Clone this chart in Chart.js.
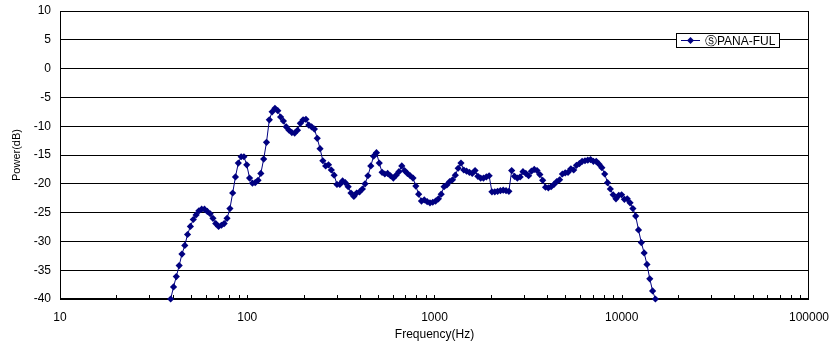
<!DOCTYPE html>
<html>
<head>
<meta charset="utf-8">
<script src="https://cdn.jsdelivr.net/npm/chart.js@4.4.0/dist/chart.umd.min.js"></script>
<style>
  html, body { margin: 0; padding: 0; background: #fff; }
</style>
</head>
<body>
<canvas id="responseChart" width="840" height="352"></canvas>
<script>
const seriesName = 'ⓈPANA-FUL';

// 1/20 octave frequencies (Hz)
const freqs = [
  39.0, 40.4, 41.8, 43.3, 44.8, 46.4, 48.0, 49.7, 51.5, 53.3, 55.2, 57.1, 59.1, 61.2, 63.4, 65.6, 67.9, 70.3, 72.8, 75.3,
  78.0, 80.8, 83.6, 86.5, 89.6, 92.8, 96.0, 99.4, 102.9, 106.6, 110.3, 114.2, 118.2, 122.4, 126.7, 131.2, 135.8, 140.6, 145.6, 150.7,
  156, 161.5, 167.2, 173.1, 179.2, 185.5, 192.1, 198.8, 205.8, 213.1, 220.6, 228.4, 236.5, 244.8, 253.4, 262.4, 271.6, 281.2, 291.1, 301.4,
  312, 323, 334, 346, 358, 371, 384, 398, 412, 426, 441, 457, 473, 490, 507, 525, 543, 562, 582, 603,
  624, 646, 669, 692, 717, 742, 768, 795, 823, 852, 882, 914, 946, 979, 1014, 1049, 1086, 1125, 1164, 1206,
  1248, 1292, 1338, 1385, 1434, 1484, 1536, 1591, 1647, 1705, 1765, 1827, 1892, 1958, 2027, 2099, 2173, 2250, 2329, 2411,
  2496, 2584, 2675, 2770, 2867, 2968, 3073, 3181, 3293, 3410, 3530, 3654, 3783, 3917, 4055, 4198, 4346, 4499, 4658, 4822,
  4992, 5168, 5350, 5539, 5734, 5937, 6146, 6363, 6587, 6819, 7060, 7309, 7567, 7833, 8110, 8396, 8692, 8998, 9315, 9644,
  9984, 10336, 10701, 11078, 11469, 11873, 12292, 12725, 13174, 13638, 14119, 14617, 15132
];

// level (dB)
const power = [
  -40.0, -37.9, -36.1, -34.2, -32.2, -30.7, -28.8, -27.4, -26.2, -25.4, -24.7, -24.4, -24.4, -24.8, -25.2, -26.0, -26.9, -27.4, -27.2, -26.9,
  -26.0, -24.3, -21.6, -18.8, -16.4, -15.3, -15.3, -16.7, -19.0, -19.9, -19.8, -19.4, -18.2, -15.7, -12.8, -8.9, -7.5, -6.9, -7.3, -8.4,
  -9.1, -10.1, -10.7, -11.1, -11.2, -10.7, -9.5, -8.9, -8.8, -9.8, -10.1, -10.5, -12.1, -13.9, -16.0, -16.9, -16.7, -17.6, -18.5, -20.1,
  -20.1, -19.5, -19.8, -20.5, -21.6, -22.2, -21.6, -21.4, -20.9, -20.0, -18.6, -16.9, -15.2, -14.6, -16.4, -18.0, -18.3, -18.2, -18.6, -19.0,
  -18.5, -17.9, -16.9, -17.7, -18.2, -18.6, -19.0, -20.4, -21.8, -23.0, -22.8, -23.1, -23.3, -23.2, -23.0, -22.6, -21.8, -20.5, -20.2, -19.6,
  -19.3, -18.5, -17.3, -16.4, -17.6, -17.8, -18.0, -18.2, -17.7, -18.7, -19.0, -19.0, -18.8, -18.6, -21.4, -21.4, -21.3, -21.2, -21.1, -21.2,
  -21.3, -17.7, -18.7, -19.0, -18.8, -17.9, -18.2, -18.6, -17.8, -17.5, -17.7, -18.4, -19.4, -20.6, -20.7, -20.5, -20.1, -19.6, -19.3, -18.3,
  -18.1, -18.0, -17.4, -17.6, -16.8, -16.5, -16.1, -16.0, -15.9, -15.8, -16.1, -16.1, -16.6, -17.2, -18.3, -19.8, -20.9, -21.9, -22.6, -22.0,
  -21.9, -22.7, -22.6, -23.3, -24.3, -25.6, -28.0, -30.2, -32.0, -34.0, -36.5, -38.6, -40.0
];

const xTicks = [10, 100, 1000, 10000, 100000];
const yMin = -40, yMax = 10, yStep = 5;

const navy = '#000080';
const font = { family: 'Liberation Sans, Arial, sans-serif', size: 12 };

// frame, inside minor ticks on the x axis, and boxed legend
const extras = {
  id: 'extras',
  beforeDatasetsDraw(chart) {
    const { ctx, chartArea: a, scales: { x } } = chart;
    ctx.save();
    ctx.strokeStyle = '#000';
    ctx.lineWidth = 1;
    ctx.strokeRect(Math.round(a.left) + 0.5, Math.round(a.top) + 0.5,
      Math.round(a.right - a.left) - 1, Math.round(a.bottom - a.top) - 1);
    ctx.beginPath();
    for (let d = xTicks[0]; d < xTicks[xTicks.length - 1]; d *= 10) {
      for (let m = 1; m < 10; m++) {
        const px = Math.round(x.getPixelForValue(d * m)) + 0.5;
        ctx.moveTo(px, a.bottom);
        ctx.lineTo(px, a.bottom - 4);
      }
    }
    ctx.stroke();
    ctx.restore();
  },
  afterDraw(chart) {
    const { ctx, chartArea: a } = chart;
    const bx = Math.round(a.right) - 133, by = Math.round(a.top) + 22;
    const bw = 103, bh = 14;
    ctx.save();
    ctx.fillStyle = '#fff';
    ctx.fillRect(bx, by, bw, bh);
    ctx.strokeStyle = '#000';
    ctx.lineWidth = 1;
    ctx.strokeRect(bx + 0.5, by + 0.5, bw, bh);
    const cy = by + 7.5;
    ctx.strokeStyle = navy;
    ctx.beginPath();
    ctx.moveTo(bx + 5, cy);
    ctx.lineTo(bx + 24, cy);
    ctx.stroke();
    ctx.fillStyle = navy;
    ctx.beginPath();
    ctx.moveTo(bx + 14.5, cy - 3.5);
    ctx.lineTo(bx + 18, cy);
    ctx.lineTo(bx + 14.5, cy + 3.5);
    ctx.lineTo(bx + 11, cy);
    ctx.closePath();
    ctx.fill();
    ctx.fillStyle = '#000';
    ctx.font = '12px ' + font.family;
    ctx.textBaseline = 'middle';
    ctx.fillText(seriesName, bx + 29, cy + 1);
    ctx.restore();
  }
};

const ctx = document.getElementById('responseChart').getContext('2d');
const responseChart = new Chart(ctx, {
  type: 'line',
  data: {
    datasets: [{
      label: seriesName,
      data: freqs.map((f, i) => ({ x: f, y: power[i] })),
      borderColor: navy,
      borderWidth: 1,
      backgroundColor: navy,
      pointStyle: 'rectRot',
      pointRadius: 3.6,
      pointBorderWidth: 0,
      pointBackgroundColor: navy,
      tension: 0,
      clip: false
    }]
  },
  options: {
    responsive: false,
    animation: false,
    devicePixelRatio: 1,
    layout: { padding: { left: 0, right: 30, top: 11, bottom: 0 } },
    plugins: {
      legend: { display: false },
      tooltip: { enabled: false }
    },
    scales: {
      x: {
        type: 'logarithmic',
        min: 10,
        max: 100000,
        afterFit: (s) => { s.height = 53; },
        afterBuildTicks: (s) => { s.ticks = xTicks.map(v => ({ value: v })); },
        grid: { drawOnChartArea: false, drawTicks: false },
        border: { display: true, color: '#000' },
        ticks: {
          color: '#000', font: font, padding: 11, autoSkip: false, maxRotation: 0,
          callback: (v) => String(v)
        },
        title: {
          display: true, text: 'Frequency(Hz)', color: '#000',
          font: { family: font.family, size: 12 }, padding: { bottom: 10 }
        }
      },
      y: {
        min: yMin,
        max: yMax,
        afterFit: (s) => { s.width = 60; s.paddingTop = 0; s.paddingBottom = 0; },
        grid: { color: '#000', lineWidth: 1, drawTicks: false },
        border: { display: true, color: '#000' },
        ticks: {
          stepSize: yStep, color: '#000', font: font, padding: 9,
          callback: (v) => String(v)
        },
        title: {
          display: true, text: 'Power(dB)', color: '#000',
          font: { family: font.family, size: 11 }, padding: { top: 10 }
        }
      }
    }
  },
  plugins: [extras]
});
</script>
</body>
</html>
